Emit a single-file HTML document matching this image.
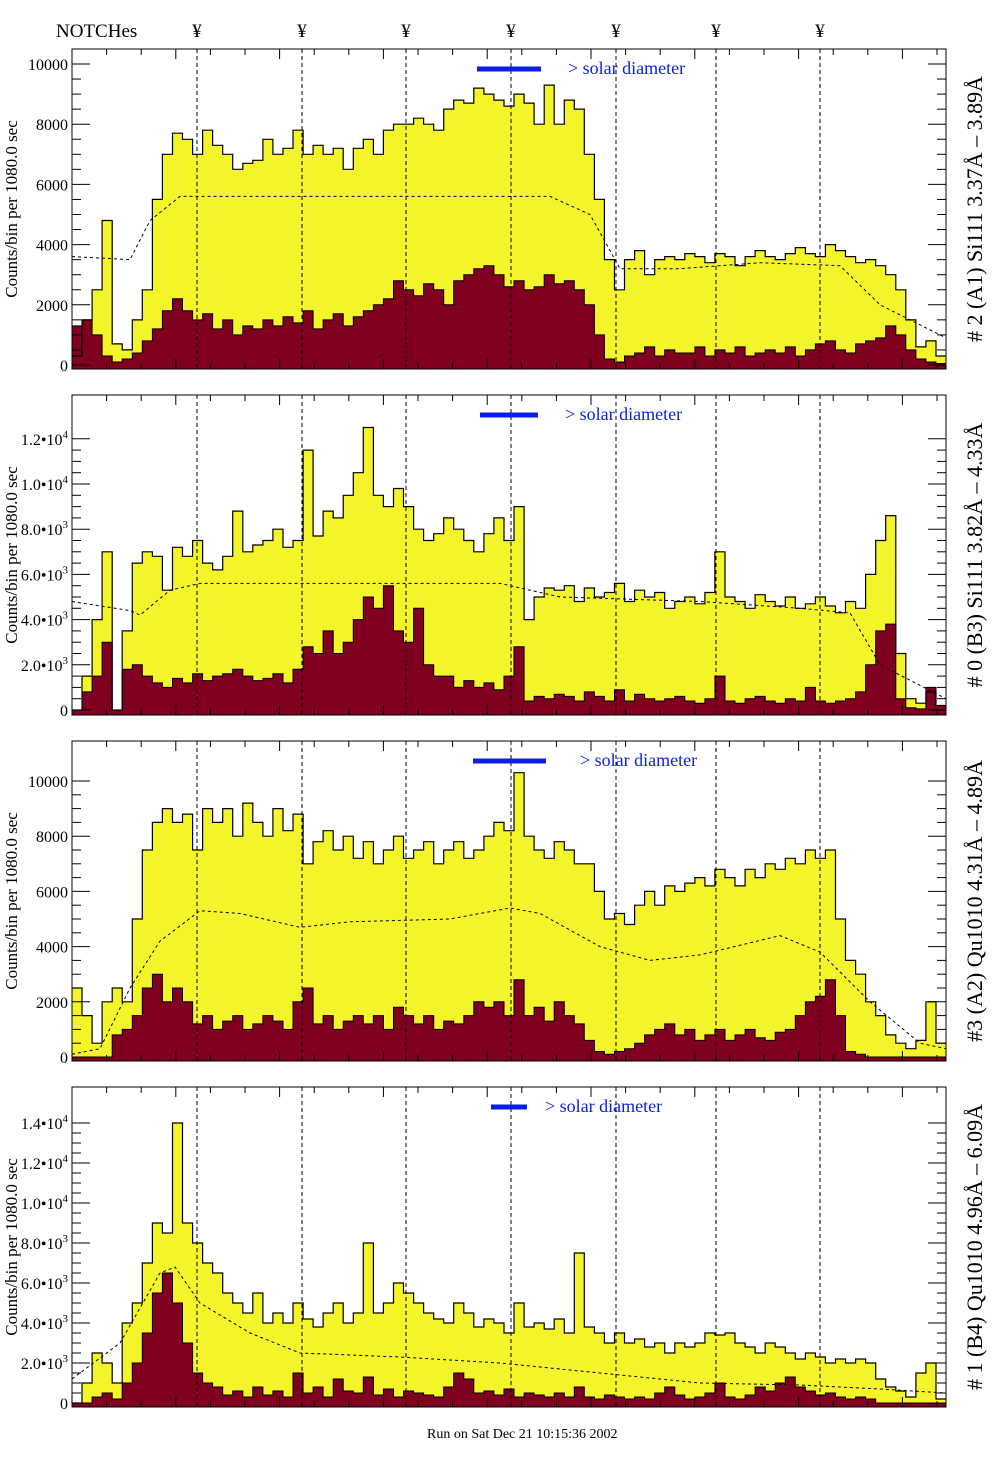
<!DOCTYPE html>
<html><head><meta charset="utf-8">
<style>
html,body{margin:0;padding:0;background:#fff;}
svg{display:block;font-family:"Liberation Serif",serif;}
</style></head>
<body>
<svg id="chart" width="1004" height="1476" viewBox="0 0 1004 1476" xmlns="http://www.w3.org/2000/svg">
<rect width="1004" height="1476" fill="#fff"/>
</svg>
<script>
const notchX = [197, 302, 406, 511, 616, 716, 820];
const p1Total = [300,1500,2500,4800,700,500,1500,2500,5500,7000,7700,7500,7000,7800,7300,7000,6500,6700,6800,7500,7000,7200,7800,7000,7300,7000,7200,6500,7200,7500,7000,7800,8000,8000,8200,8000,7800,8500,8800,8700,9200,9000,8800,8600,9000,8700,8000,9300,8000,8800,8500,7000,5500,3500,2500,3500,3800,3000,3500,3600,3500,3700,3600,3400,3700,3600,3300,3600,3800,3600,3500,3700,3900,3700,3600,4000,3800,3600,3400,3500,3300,3000,2500,1500,600,800,300];
const p1Inner = [1300,1500,1000,300,100,200,400,800,1200,1800,2200,1800,1500,1700,1200,1500,1000,1300,1200,1500,1300,1600,1400,1800,1200,1500,1700,1300,1600,1800,2000,2200,2800,2500,2300,2700,2500,2000,2800,3000,3200,3300,3000,2600,2800,2500,2600,3000,2700,2800,2500,2000,1000,200,100,300,400,600,300,500,400,400,600,300,500,400,600,300,400,500,400,600,300,500,700,800,500,400,700,800,900,1300,1000,500,200,100,50];
const p1CurveX = [72,130,150,180,550,590,620,680,760,840,880,946];
const p1CurveY = [3600,3500,4800,5600,5600,5000,3200,3200,3400,3300,2000,900];

const p2Total = [0,1500,4000,7000,0,3500,6500,7000,6800,5300,7200,6800,7500,6500,6200,6800,8800,7000,7300,7500,8000,7200,7500,11500,7700,8800,8500,9500,10500,12500,9500,9000,9800,9000,8000,7500,7800,8500,8000,7500,7000,7800,8500,7500,9000,4000,5000,5400,5300,5500,4800,5400,5000,5200,5600,4800,5300,5000,5200,4500,4800,5000,4700,5200,7000,5000,4800,4500,5100,4800,4600,5000,4500,4700,5000,4600,4300,4800,4500,6000,7500,8600,2500,500,300,800,200];
const p2Inner = [0,800,1500,3000,0,1800,2000,1500,1200,1000,1400,1200,1600,1300,1500,1600,1800,1500,1300,1400,1600,1200,1800,2800,2500,3500,2500,3000,4000,5000,4500,5500,3500,3000,4500,2000,1500,1500,1000,1300,1000,1200,900,1500,2800,400,600,500,700,600,400,800,600,400,900,400,700,500,400,500,600,400,300,500,1500,400,300,500,600,400,300,500,400,1000,400,300,400,500,800,2000,3500,3800,500,100,50,1000,200];
const p2CurveX = [72,130,140,170,200,500,560,700,800,850,880,946];
const p2CurveY = [4800,4400,4200,5300,5600,5600,5000,4800,4500,4300,2000,500];

const p3Total = [2500,1500,500,2000,2500,2000,5000,7500,8500,9000,8500,8800,7500,9000,8500,9000,8000,9200,8500,8000,9000,8200,8800,7000,7800,8200,7500,8000,7200,7800,7000,7500,8000,7200,7500,7800,7000,7500,7800,7200,7500,8000,8500,8200,10300,8000,7500,7200,7800,7500,7000,7000,6000,5000,5200,4800,5500,6000,5500,6200,6000,6300,6500,6200,6800,6500,6200,6800,6500,7000,6800,7200,7000,7500,7200,7500,5000,3500,3000,2000,1500,800,500,300,600,2000,500];
const p3Inner = [0,0,0,0,800,1000,1500,2500,3000,2000,2500,2000,1200,1500,1000,1300,1500,1000,1200,1500,1300,1000,2000,2500,1200,1500,1000,1300,1500,1200,1500,1000,1800,1500,1200,1500,1000,1300,1200,1500,2000,1800,2000,1500,2800,1500,1800,1300,2000,1500,1200,600,200,100,200,300,500,800,1000,1200,800,1000,600,800,1000,600,800,1000,700,600,900,1000,1500,2000,2200,2800,1500,200,100,0,0,0,0,0,0,0,0];
const p3CurveX = [72,100,130,160,200,240,300,350,450,510,540,600,650,700,780,820,870,920,946];
const p3CurveY = [100,300,2500,4200,5300,5200,4700,4900,5000,5400,5200,4000,3500,3700,4400,3800,2000,500,300];

const p4Total = [0,1000,2500,2000,1000,4000,5000,7000,9000,8500,14000,9000,8000,7000,6500,5500,5000,4500,5500,4000,4500,4000,5000,4200,3800,4500,5000,4000,4500,8000,4500,5000,6000,5500,5000,4500,4200,4000,5000,4500,3800,4200,4000,3500,5000,3800,4000,3700,4200,3500,7500,3800,3500,3000,3500,3000,3200,2800,3000,2500,3000,2800,3000,3500,3400,3500,3000,2800,2500,3000,2800,2500,2200,2500,2300,2000,2200,2000,2200,2000,1200,800,600,300,1500,2000,200];
const p4Inner = [0,0,300,500,200,1000,2000,3500,5500,6500,5000,3000,1500,1000,800,400,600,300,800,400,600,300,1500,500,800,300,1200,600,500,1300,400,700,300,600,500,400,300,800,1500,1200,500,600,400,700,300,500,400,300,500,300,800,300,200,400,300,200,300,200,500,800,400,200,300,500,1000,300,200,400,800,600,1000,1300,800,600,400,500,300,200,300,200,0,0,0,0,0,0,0];
const p4CurveX = [72,120,160,175,200,250,300,400,500,600,700,800,880,946];
const p4CurveY = [1200,3000,6500,6800,5000,3500,2500,2300,2000,1500,1000,900,700,500];

const p1Ticks = [0,2000,4000,6000,8000,10000];
const p1TickLabels = ["0","2000","4000","6000","8000","10000"];
const p2Ticks = [0,2000,4000,6000,8000,10000,12000];
const p2TickLabels = ["0","2.0","4.0","6.0","8.0","1.0","1.2"];
const p2TickExp = ["","3","3","3","3","4","4"];
const p3Ticks = [0,2000,4000,6000,8000,10000];
const p3TickLabels = ["0","2000","4000","6000","8000","10000"];
const p4Ticks = [0,2000,4000,6000,8000,10000,12000,14000];
const p4TickLabels = ["0","2.0","4.0","6.0","8.0","1.0","1.2","1.4"];
const p4TickExp = ["","3","3","3","3","4","4","4"];

const NS = "http://www.w3.org/2000/svg";
const svg = document.getElementById('chart');
const X0 = 72, X1 = 946;
function mk(tag, attrs, parent) {
  const e = document.createElementNS(NS, tag);
  for (const k in attrs) e.setAttribute(k, attrs[k]);
  (parent || svg).appendChild(e);
  return e;
}

const panels = [
  {top:49, bot:369, y0:365, per:30.1, total:p1Total, inner:p1Inner, cx:p1CurveX, cy:p1CurveY, ticks:p1Ticks, labels:p1TickLabels, exp:null, max:10000,
   label:"# 2 (A1) Si111  3.37Å – 3.89Å", bar:[477,541,69], txt:568},
  {top:395, bot:715, y0:710, per:22.6, total:p2Total, inner:p2Inner, cx:p2CurveX, cy:p2CurveY, ticks:p2Ticks, labels:p2TickLabels, exp:p2TickExp, max:12000,
   label:"# 0 (B3) Si111  3.82Å – 4.33Å", bar:[480,538,415], txt:565},
  {top:741, bot:1061, y0:1057, per:27.6, total:p3Total, inner:p3Inner, cx:p3CurveX, cy:p3CurveY, ticks:p3Ticks, labels:p3TickLabels, exp:null, max:10000,
   label:"#3 (A2) Qu1010  4.31Å – 4.89Å", bar:[473,546,761], txt:580},
  {top:1087, bot:1407, y0:1403, per:20.0, total:p4Total, inner:p4Inner, cx:p4CurveX, cy:p4CurveY, ticks:p4Ticks, labels:p4TickLabels, exp:p4TickExp, max:14000,
   label:"# 1 (B4) Qu1010 4.96Å – 6.09Å", bar:[491,527,1107], txt:545}
];

const hdr = mk('text', {x:56, y:37, 'font-size':19, fill:'#000'});


hdr.textContent = 'NOTCHes';
notchX.forEach(function(x){
  const t = mk('text', {x:x, y:37, 'font-size':19, 'text-anchor':'middle', fill:'#000'});
  
  
  t.textContent = '¥';
});

function histPath(vals, p) {
  const n = vals.length, w = (X1 - X0) / n;
  const yv = v => Math.max(p.top, p.y0 - v / 1000 * p.per);
  let d = 'M' + X0 + ',' + p.bot;
  vals.forEach(function(v, i){
    const xa = X0 + i * w, xb = X0 + (i + 1) * w, y = yv(v);
    d += ' L' + xa.toFixed(1) + ',' + y.toFixed(1) + ' L' + xb.toFixed(1) + ',' + y.toFixed(1);
  });
  d += ' L' + X1 + ',' + p.bot + ' Z';
  return d;
}
function outlinePath(vals, p) {
  const n = vals.length, w = (X1 - X0) / n;
  const yv = v => Math.max(p.top, p.y0 - v / 1000 * p.per);
  let d = '';
  vals.forEach(function(v, i){
    const xa = X0 + i * w, xb = X0 + (i + 1) * w, y = yv(v);
    d += (i === 0 ? 'M' : ' L') + xa.toFixed(1) + ',' + y.toFixed(1) + ' L' + xb.toFixed(1) + ',' + y.toFixed(1);
  });
  return d;
}

panels.forEach(function(p, pi){
  const g = mk('g', {});
  
  
  const yv = v => p.y0 - v / 1000 * p.per;

  const yel = mk('path', {d:histPath(p.total, p), fill:'#f4f42a', stroke:'none'}, g);
  
  
  const mar = mk('path', {d:histPath(p.inner, p), fill:'#800020', stroke:'none'}, g);
  
  
  const ol1 = mk('path', {d:outlinePath(p.total, p), fill:'none', stroke:'#000', 'stroke-width':1.2}, g);
  
  
  const ol2 = mk('path', {d:outlinePath(p.inner, p), fill:'none', stroke:'#000', 'stroke-width':1}, g);
  
  

  let cd = '';
  p.cx.forEach(function(x, i){ cd += (i ? ' L' : 'M') + x + ',' + yv(p.cy[i]).toFixed(1); });
  const cur = mk('path', {d:cd, fill:'none', stroke:'#000', 'stroke-width':1, 'stroke-dasharray':'3,3'}, g);
  
  

  notchX.forEach(function(x){
    const l = mk('line', {x1:x, x2:x, y1:p.top, y2:p.bot, stroke:'#000', 'stroke-width':1, 'stroke-dasharray':'4,3'}, g);
    
    
  });

  const fr = mk('rect', {x:X0, y:p.top, width:X1 - X0, height:p.bot - p.top, fill:'none', stroke:'#000', 'stroke-width':1}, g);
  
  

  for (let x = X0 + 34.6; x < X1; x += 34.6) {
    const big = Math.round((x - X0) / 34.6) % 3 === 0;
    mk('line', {x1:x, x2:x, y1:p.top, y2:p.top + (big ? 10 : 6), stroke:'#000'}, g);
    mk('line', {x1:x, x2:x, y1:p.bot, y2:p.bot - (big ? 10 : 6), stroke:'#000'}, g);
  }
  const step = p.ticks[1] - p.ticks[0];
  for (let v = 0; v <= p.max + 1; v += step / 4) {
    const y = yv(v);
    if (y < p.top) break;
    const major = Math.abs(v % step) < 1;
    mk('line', {x1:X0, x2:X0 + (major ? 18 : 9), y1:y, y2:y, stroke:'#000'}, g);
    mk('line', {x1:X1, x2:X1 - (major ? 18 : 9), y1:y, y2:y, stroke:'#000'}, g);
  }
  p.ticks.forEach(function(v, i){
    const t = mk('text', {x:68, y:yv(v) + 6, 'font-size':16, 'text-anchor':'end', fill:'#000'}, g);
    
    
    if (p.exp && p.exp[i]) {
      t.textContent = p.labels[i] + '•10';
      const s = mk('tspan', {'font-size':11, dy:-7}, t);
      s.textContent = p.exp[i];
    } else {
      t.textContent = p.labels[i];
    }
  });

  const cyy = (p.top + p.bot) / 2;
  const yt = mk('text', {x:0, y:0, 'font-size':17, 'text-anchor':'middle', fill:'#000', transform:'translate(17,' + cyy + ') rotate(-90)'}, g);
  
  
  yt.textContent = 'Counts/bin per   1080.0 sec';

  const rl = mk('text', {x:0, y:0, 'font-size':22, 'text-anchor':'middle', fill:'#000', transform:'translate(982,' + cyy + ') rotate(-90)'}, g);
  
  
  rl.textContent = p.label;

  const lb = mk('line', {x1:p.bar[0], x2:p.bar[1], y1:p.bar[2], y2:p.bar[2], stroke:'#0a1ee6', 'stroke-width':5}, g);
  
  
  const lt = mk('text', {x:p.txt, y:p.bar[2] + 5, 'font-size':18, fill:'#0a1ee6'}, g);
  
  
  lt.textContent = '> solar diameter';
});

const ft = mk('text', {x:427, y:1438, 'font-size':14, fill:'#000'});


ft.textContent = 'Run on Sat Dec 21 10:15:36 2002';
</script>
</body></html>
